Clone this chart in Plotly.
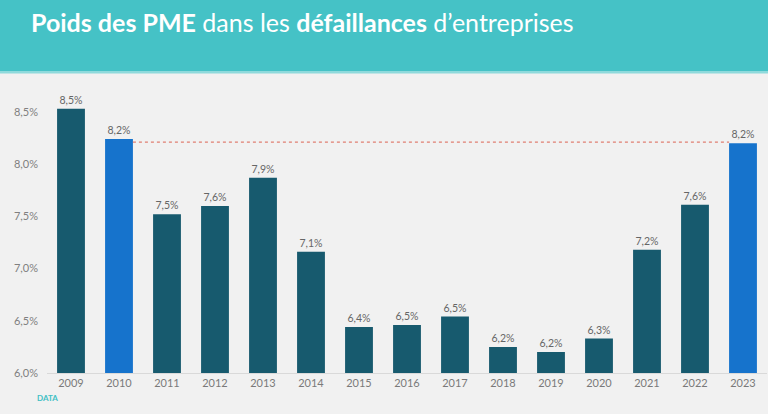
import plotly.graph_objects as go

years = ["2009", "2010", "2011", "2012", "2013", "2014", "2015", "2016",
         "2017", "2018", "2019", "2020", "2021", "2022", "2023"]
share_pct = [8.53, 8.24, 7.52, 7.60, 7.87, 7.16, 6.44, 6.46,
             6.54, 6.25, 6.20, 6.33, 7.18, 7.61, 8.20]
value_labels = ["8,5%", "8,2%", "7,5%", "7,6%", "7,9%", "7,1%", "6,4%", "6,5%",
                "6,5%", "6,2%", "6,2%", "6,3%", "7,2%", "7,6%", "8,2%"]
highlight_years = ["2010", "2023"]
reference_level = 8.21
ytick_vals = [6.0, 6.5, 7.0, 7.5, 8.0, 8.5]
ytick_text = ["6,0%", "6,5%", "7,0%", "7,5%", "8,0%", "8,5%"]

DARK = "#175a6e"
BLUE = "#1673cc"
TEAL = "#45c2c6"

W, H = 768, 414
m_l, m_r, m_t, m_b = 47, 1, 91, 41
bar_w = 0.58

colors = [BLUE if y in highlight_years else DARK for y in years]

fig = go.Figure()
fig.add_trace(go.Bar(
    x=years, y=share_pct, width=bar_w,
    marker=dict(color=colors, line=dict(width=0)),
    text=value_labels, textposition="outside", cliponaxis=False,
    textfont=dict(family="Lato, sans-serif", size=10.5, color="#666666"),
    hoverinfo="skip",
))

i0 = years.index(highlight_years[0])
i1 = years.index(highlight_years[1])
fig.add_shape(type="line", xref="x", yref="y",
              x0=i0 + bar_w / 2, x1=i1 - bar_w / 2,
              y0=reference_level, y1=reference_level,
              line=dict(color="#e07f72", width=1.2, dash="dot"))

plot_h = H - m_t - m_b
def py(pix):
    return (H - m_b - pix) / plot_h

# header band
fig.add_shape(type="rect", xref="paper", yref="paper", x0=-0.2, x1=1.2,
              y0=py(71), y1=py(-5), fillcolor=TEAL, line=dict(width=0), layer="below")
fig.add_shape(type="rect", xref="paper", yref="paper", x0=-0.2, x1=1.2,
              y0=py(73.5), y1=py(71), fillcolor="#8fdadc", line=dict(width=0), layer="below")

fig.add_annotation(xref="paper", yref="paper", x=(29 - m_l) / (W - m_l - m_r), y=py(22),
                   xanchor="left", yanchor="middle", showarrow=False,
                   text="<b>Poids des PME</b> dans les <b>défaillances</b> d\u2019entreprises",
                   font=dict(family="Lato, sans-serif", size=25, color="white"))

fig.add_annotation(xref="paper", yref="paper", x=(35 - m_l) / (W - m_l - m_r), y=py(398),
                   xanchor="left", yanchor="middle", showarrow=False,
                   text="<b>DATA</b>",
                   font=dict(family="Lato, sans-serif", size=8, color="#3fc0c4"))

fig.update_layout(
    width=W, height=H,
    margin=dict(l=m_l, r=m_r, t=m_t, b=m_b),
    paper_bgcolor="#f1f1f1", plot_bgcolor="rgba(0,0,0,0)",
    showlegend=False, bargap=0.42,
    font=dict(family="Lato, sans-serif", color="#808080"),
)
fig.update_xaxes(type="category", showgrid=False, showline=True, linecolor="#d9d9d9",
                 linewidth=1, ticks="", tickfont=dict(size=11, color="#7a7a7a"),
                 range=[-0.5, len(years) - 0.5])
fig.update_yaxes(range=[6.0, 8.7], showgrid=False, zeroline=False, showline=False,
                 tickvals=ytick_vals, ticktext=ytick_text, ticks="",
                 tickfont=dict(size=11, color="#808080"), ticklabelstandoff=8)

fig.write_html("out.html", config={"displayModeBar": False},
               post_script="document.body.style.margin='0';document.body.style.overflow='hidden';")
